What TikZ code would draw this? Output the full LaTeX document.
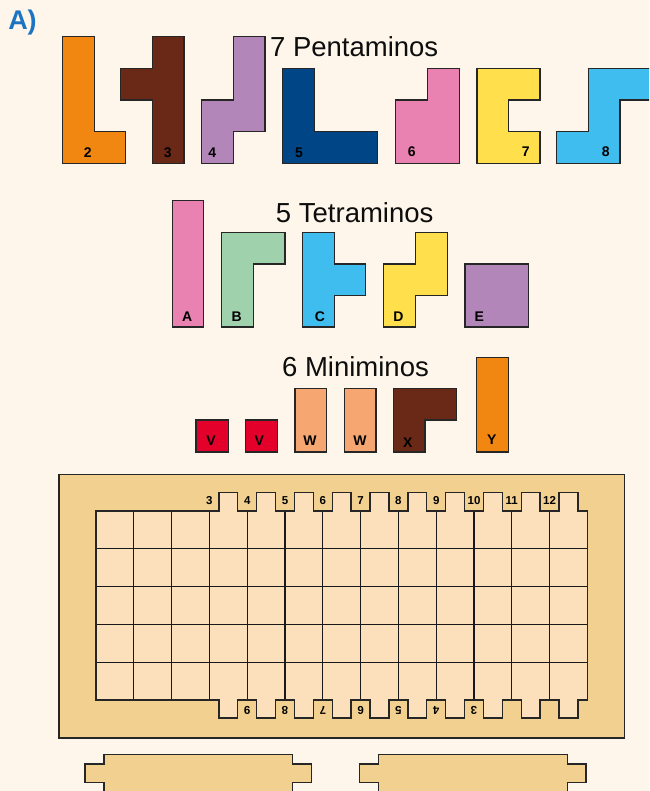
\documentclass[tikz,border=0pt]{standalone}
\usepackage{fontspec}
\setmainfont{Liberation Sans}
\definecolor{bg}{HTML}{FEF6EA}
\definecolor{porange}{HTML}{F18711}
\definecolor{pbrown}{HTML}{6A2816}
\definecolor{plilac}{HTML}{B286B9}
\definecolor{pnavy}{HTML}{004687}
\definecolor{ppink}{HTML}{E982B1}
\definecolor{pyellow}{HTML}{FFDF4B}
\definecolor{psky}{HTML}{3FBDEF}
\definecolor{pgreen}{HTML}{9FD1AC}
\definecolor{pred}{HTML}{E3002B}
\definecolor{psalmon}{HTML}{F6A771}
\definecolor{ptan}{HTML}{F2D08F}
\definecolor{pcell}{HTML}{FCE0BB}
\definecolor{pblue}{HTML}{1C75C2}
\begin{document}
\begin{tikzpicture}[x=1pt,y=-1pt,
  piece/.style={draw=black!85, line width=1.35pt, line join=miter},
  lbl/.style={font=\fontsize{14}{14}\selectfont\bfseries, inner sep=0pt, text=black},
  blbl/.style={font=\fontsize{11.5}{11.5}\selectfont\bfseries, inner sep=0pt, text=black},
  ttl/.style={font=\fontsize{27.5}{27.5}\selectfont, inner sep=0pt, anchor=base, text=black!95},
  gridline/.style={draw=black!90, line width=1.2pt}]
\useasboundingbox (0,0) rectangle (649,791);
\clip (0,0) rectangle (649,791);
\fill[bg] (0,0) rectangle (649,791);
\def\cel{37.8}

% header
\node[font=\fontsize{27}{27}\selectfont\bfseries, text=pblue, inner sep=0pt, anchor=base] (hdr) at (22.5,29.3) {A)};

% pentaminos
\node[ttl] (tpenta) at (354.2,56.7) {7 Pentaminos};
\filldraw[piece, fill=porange] (62.3,36.7) -- (94.3,36.7) -- (94.3,131.7) -- (125.7,131.7) -- (125.7,163.3) -- (62.3,163.3) -- cycle;
\node[lbl] (p2) at (87.7,152.3) {2};
\filldraw[piece, fill=pbrown] (152.3,36.7) -- (184,36.7) -- (184,163.3) -- (152.3,163.3) -- (152.3,100) -- (120.7,100) -- (120.7,68.3) -- (152.3,68.3) -- cycle;
\node[lbl] (p3) at (167.7,152.3) {3};
\filldraw[piece, fill=plilac] (233.3,36.7) -- (265,36.7) -- (265,131.7) -- (233.3,131.7) -- (233.3,163.3) -- (201.7,163.3) -- (201.7,100) -- (233.3,100) -- cycle;
\node[lbl] (p4) at (212.3,152.3) {4};
\filldraw[piece, fill=pnavy] (282.7,68.3) -- (314.3,68.3) -- (314.3,131.7) -- (377.7,131.7) -- (377.7,163.3) -- (282.7,163.3) -- cycle;
\node[lbl] (p5) at (299,152.3) {5};
\filldraw[piece, fill=ppink] (427.3,68.3) -- (459.3,68.3) -- (459.3,163.3) -- (395.7,163.3) -- (395.7,100) -- (427.3,100) -- cycle;
\node[lbl] (p6) at (411.7,151.7) {6};
\filldraw[piece, fill=pyellow] (477,68.3) -- (540,68.3) -- (540,100) -- (508.3,100) -- (508.3,131.7) -- (540,131.7) -- (540,163.3) -- (477,163.3) -- cycle;
\node[lbl] (p7) at (525.7,151.7) {7};
\filldraw[piece, fill=psky] (588.3,68.3) -- (655,68.3) -- (655,100) -- (620,100) -- (620,163.3) -- (556.3,163.3) -- (556.3,131.7) -- (588.3,131.7) -- cycle;
\node[lbl] (p8) at (605.7,151.7) {8};

% tetraminos
\node[ttl] (ttetra) at (354.7,222.7) {5 Tetraminos};
\filldraw[piece, fill=ppink] (172.3,200.3) rectangle (203.7,327);
\node[lbl] (tA) at (187.3,316.7) {A};
\filldraw[piece, fill=pgreen] (221.7,232.3) -- (285,232.3) -- (285,263.9) -- (253.3,263.9) -- (253.3,327) -- (221.7,327) -- cycle;
\node[lbl] (tB) at (236.7,316.7) {B};
\filldraw[piece, fill=psky] (302.7,232.3) -- (334.3,232.3) -- (334.3,263.9) -- (365.7,263.9) -- (365.7,295.5) -- (334.3,295.5) -- (334.3,327) -- (302.7,327) -- cycle;
\node[lbl] (tC) at (320,316.7) {C};
\filldraw[piece, fill=pyellow] (415.7,232.3) -- (447.3,232.3) -- (447.3,295.5) -- (415.7,295.5) -- (415.7,327) -- (383.3,327) -- (383.3,263.9) -- (415.7,263.9) -- cycle;
\node[lbl] (tD) at (398.3,316.7) {D};
\filldraw[piece, fill=plilac] (465,263.9) rectangle (528.3,327);
\node[lbl] (tE) at (479.3,316.7) {E};

% miniminos
\node[ttl] (tmini) at (355.5,376.7) {6 Miniminos};
\filldraw[piece, fill=pred] (196,420) rectangle (228.3,452);
\node[lbl] (mV1) at (211,441) {V};
\filldraw[piece, fill=pred] (245.7,420) rectangle (277.7,452);
\node[lbl] (mV2) at (259.3,441) {V};
\filldraw[piece, fill=psalmon] (295,388.3) rectangle (326.7,452);
\node[lbl] (mW1) at (310,441) {W};
\filldraw[piece, fill=psalmon] (344.3,388.3) rectangle (376,452);
\node[lbl] (mW2) at (360,441) {W};
\filldraw[piece, fill=pbrown] (393.3,388.3) -- (456.7,388.3) -- (456.7,420) -- (425,420) -- (425,452) -- (393.3,452) -- cycle;
\node[lbl] (mX) at (407.7,442.7) {X};
\filldraw[piece, fill=porange] (476.7,357.3) rectangle (508.3,452);
\node[lbl] (mY) at (491.7,439.3) {Y};

% board
\filldraw[piece, fill=ptan] (59,474.3) rectangle (624.7,738);
\path[fill=pcell] (96,511)
  \foreach \j in {3,...,12}{ -- ({96+\j*\cel+\cel/4},511) -- ({96+\j*\cel+\cel/4},492.7) -- ({96+\j*\cel+3*\cel/4},492.7) -- ({96+\j*\cel+3*\cel/4},511) }
  -- (587.4,511) -- (587.4,700)
  \foreach \j in {12,11,...,3}{ -- ({96+\j*\cel+3*\cel/4},700) -- ({96+\j*\cel+3*\cel/4},718) -- ({96+\j*\cel+\cel/4},718) -- ({96+\j*\cel+\cel/4},700) }
  -- (96,700) -- cycle;
\foreach \j in {1,...,12} \draw[gridline] ({96+\j*\cel},511) -- ({96+\j*\cel},700);
\foreach \i in {1,...,4} \draw[gridline] (96,{511+\i*\cel}) -- (587.4,{511+\i*\cel});
\draw[piece] (96,511)
  \foreach \j in {3,...,12}{ -- ({96+\j*\cel+\cel/4},511) -- ({96+\j*\cel+\cel/4},492.7) -- ({96+\j*\cel+3*\cel/4},492.7) -- ({96+\j*\cel+3*\cel/4},511) }
  -- (587.4,511) -- (587.4,700)
  \foreach \j in {12,11,...,3}{ -- ({96+\j*\cel+3*\cel/4},700) -- ({96+\j*\cel+3*\cel/4},718) -- ({96+\j*\cel+\cel/4},718) -- ({96+\j*\cel+\cel/4},700) }
  -- (96,700) -- cycle;
\foreach \k in {3,...,12} \node[blbl] (t\k) at ({96+\k*\cel},500.3) {\k};
\foreach \k in {3,...,9} \node[blbl, rotate=180] (b\k) at ({96+(13-\k)*\cel},710.5) {\k};

% spare pieces
\filldraw[piece, fill=ptan] (104,800) -- (104,782.7) -- (85,782.7) -- (85,764) -- (104,764) -- (104,754.3) -- (292.3,754.3) -- (292.3,764) -- (311.7,764) -- (311.7,782.7) -- (292.3,782.7) -- (292.3,800) -- cycle;
\filldraw[piece, fill=ptan] (378.3,800) -- (378.3,782.7) -- (359.3,782.7) -- (359.3,764) -- (378.3,764) -- (378.3,754.3) -- (567.3,754.3) -- (567.3,764) -- (586,764) -- (586,782.7) -- (567.3,782.7) -- (567.3,800) -- cycle;
\end{tikzpicture}
\end{document}
